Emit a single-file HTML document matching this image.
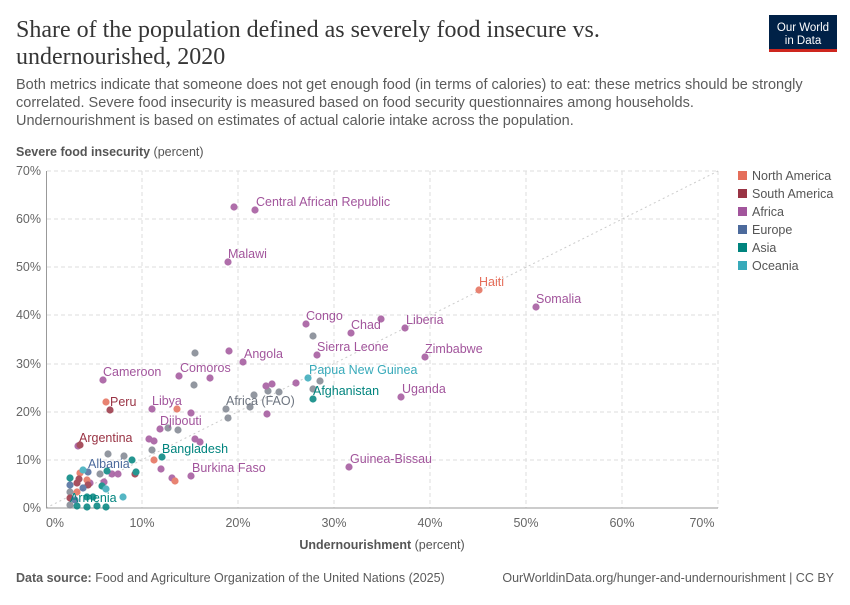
<!DOCTYPE html>
<html><head><meta charset="utf-8"><style>
body{margin:0;background:#fff;width:850px;height:600px;overflow:hidden;font-family:"Liberation Sans",sans-serif}
</style></head><body>
<svg width="850" height="600" xmlns="http://www.w3.org/2000/svg" font-family="Liberation Sans, sans-serif">
<text x="16" y="37" font-family="Liberation Serif, serif" font-size="24" fill="#363636">Share of the population defined as severely food insecure vs.</text>
<text x="16" y="64" font-family="Liberation Serif, serif" font-size="24" fill="#363636">undernourished, 2020</text>
<rect x="769" y="15" width="68" height="36" fill="#002147"/>
<rect x="769" y="49" width="68" height="3" fill="#ce261e"/>
<text x="803" y="31" font-size="11.5" fill="#fff" text-anchor="middle">Our World</text>
<text x="803" y="44" font-size="11.5" fill="#fff" text-anchor="middle">in Data</text>
<g font-size="14.5" fill="#5b5b5b">
<text x="16" y="89">Both metrics indicate that someone does not get enough food (in terms of calories) to eat: these metrics should be strongly</text>
<text x="16" y="107">correlated. Severe food insecurity is measured based on food security questionnaires among households.</text>
<text x="16" y="125">Undernourishment is based on estimates of actual calorie intake across the population.</text>
</g>
<text x="16" y="156" font-size="12.5" fill="#555"><tspan font-weight="bold">Severe food insecurity</tspan> (percent)</text>
<g stroke="#ddd" stroke-dasharray="4,3" stroke-width="1">
<line x1="47" x2="718" y1="171" y2="171"/><line x1="47" x2="718" y1="219" y2="219"/><line x1="47" x2="718" y1="267" y2="267"/><line x1="47" x2="718" y1="315" y2="315"/><line x1="47" x2="718" y1="364" y2="364"/><line x1="47" x2="718" y1="412" y2="412"/><line x1="47" x2="718" y1="460" y2="460"/>
<line x1="142" x2="142" y1="171" y2="508"/><line x1="238" x2="238" y1="171" y2="508"/><line x1="334" x2="334" y1="171" y2="508"/><line x1="430" x2="430" y1="171" y2="508"/><line x1="526" x2="526" y1="171" y2="508"/><line x1="622" x2="622" y1="171" y2="508"/><line x1="718" x2="718" y1="171" y2="508"/>
</g>
<line x1="46" y1="508" x2="718" y2="171" stroke="#ccc" stroke-dasharray="2,3"/>
<line x1="46" y1="508" x2="718" y2="508" stroke="#999"/>
<line x1="46.5" y1="171" x2="46.5" y2="508" stroke="#999"/>
<g font-size="12.5" fill="#666" text-anchor="end">
<text x="41" y="175">70%</text><text x="41" y="223">60%</text><text x="41" y="271">50%</text><text x="41" y="319">40%</text><text x="41" y="368">30%</text><text x="41" y="416">20%</text><text x="41" y="464">10%</text><text x="41" y="512">0%</text>
</g>
<g font-size="12.5" fill="#666" text-anchor="middle">
<text x="55" y="527">0%</text><text x="142" y="527">10%</text><text x="238" y="527">20%</text><text x="334" y="527">30%</text><text x="430" y="527">40%</text><text x="526" y="527">50%</text><text x="622" y="527">60%</text><text x="702" y="527">70%</text>
</g>
<text x="382" y="549" font-size="12.5" fill="#555" text-anchor="middle"><tspan font-weight="bold">Undernourishment</tspan> (percent)</text>
<g opacity="0.85">
<g fill="#808690">
<circle cx="313" cy="336" r="3.6"/><circle cx="320" cy="381" r="3.6"/><circle cx="195" cy="353" r="3.6"/><circle cx="194" cy="385" r="3.6"/><circle cx="226" cy="409" r="3.6"/><circle cx="228" cy="418" r="3.6"/><circle cx="254" cy="395" r="3.6"/><circle cx="250" cy="407" r="3.6"/><circle cx="268" cy="391" r="3.6"/><circle cx="279" cy="392" r="3.6"/><circle cx="313" cy="389" r="3.6"/><circle cx="168" cy="428" r="3.6"/><circle cx="178" cy="430" r="3.6"/><circle cx="152" cy="450" r="3.6"/><circle cx="124" cy="456" r="3.6"/><circle cx="108" cy="454" r="3.6"/><circle cx="100" cy="474" r="3.6"/><circle cx="70" cy="492" r="3.6"/><circle cx="70" cy="505" r="3.6"/>
</g>
<g fill="#a2559c">
<circle cx="255" cy="210" r="3.6"/><circle cx="234" cy="207" r="3.6"/><circle cx="228" cy="262" r="3.6"/><circle cx="306" cy="324" r="3.6"/><circle cx="351" cy="333" r="3.6"/><circle cx="381" cy="319" r="3.6"/><circle cx="405" cy="328" r="3.6"/><circle cx="536" cy="307" r="3.6"/><circle cx="425" cy="357" r="3.6"/><circle cx="317" cy="355" r="3.6"/><circle cx="243" cy="362" r="3.6"/><circle cx="229" cy="351" r="3.6"/><circle cx="103" cy="380" r="3.6"/><circle cx="179" cy="376" r="3.6"/><circle cx="210" cy="378" r="3.6"/><circle cx="152" cy="409" r="3.6"/><circle cx="191" cy="413" r="3.6"/><circle cx="160" cy="429" r="3.6"/><circle cx="149" cy="439" r="3.6"/><circle cx="154" cy="441" r="3.6"/><circle cx="195" cy="439" r="3.6"/><circle cx="200" cy="442" r="3.6"/><circle cx="401" cy="397" r="3.6"/><circle cx="349" cy="467" r="3.6"/><circle cx="191" cy="476" r="3.6"/><circle cx="161" cy="469" r="3.6"/><circle cx="172" cy="478" r="3.6"/><circle cx="296" cy="383" r="3.6"/><circle cx="266" cy="386" r="3.6"/><circle cx="272" cy="384" r="3.6"/><circle cx="267" cy="414" r="3.6"/><circle cx="78" cy="446" r="3.6"/><circle cx="112" cy="474" r="3.6"/><circle cx="118" cy="474" r="3.6"/><circle cx="104" cy="482" r="3.6"/><circle cx="90" cy="483" r="3.6"/>
</g>
<g fill="#e56e5a">
<circle cx="479" cy="290" r="3.6"/><circle cx="106" cy="402" r="3.6"/><circle cx="177" cy="409" r="3.6"/><circle cx="154" cy="460" r="3.6"/><circle cx="175" cy="481" r="3.6"/><circle cx="80" cy="473" r="3.6"/><circle cx="87" cy="480" r="3.6"/><circle cx="77" cy="492" r="3.6"/>
</g>
<g fill="#993344">
<circle cx="110" cy="410" r="3.6"/><circle cx="80" cy="445" r="3.6"/><circle cx="77" cy="483" r="3.6"/><circle cx="79" cy="479" r="3.6"/><circle cx="88" cy="485" r="3.6"/><circle cx="135" cy="474" r="3.6"/><circle cx="70" cy="498" r="3.6"/>
</g>
<g fill="#4c6a9c">
<circle cx="70" cy="485" r="3.6"/><circle cx="88" cy="472" r="3.6"/><circle cx="83" cy="488" r="3.6"/><circle cx="75" cy="500" r="3.6"/>
</g>
<g fill="#00847e">
<circle cx="313" cy="399" r="3.6"/><circle cx="162" cy="457" r="3.6"/><circle cx="70" cy="478" r="3.6"/><circle cx="107" cy="471" r="3.6"/><circle cx="102" cy="486" r="3.6"/><circle cx="136" cy="472" r="3.6"/><circle cx="132" cy="460" r="3.6"/><circle cx="77" cy="506" r="3.6"/><circle cx="87" cy="507" r="3.6"/><circle cx="97" cy="506" r="3.6"/><circle cx="106" cy="507" r="3.6"/><circle cx="87" cy="497" r="3.6"/><circle cx="93" cy="497" r="3.6"/>
</g>
<g fill="#38aaba">
<circle cx="308" cy="378" r="3.6"/><circle cx="123" cy="497" r="3.6"/><circle cx="83" cy="470" r="3.6"/><circle cx="106" cy="489" r="3.6"/>
</g>
</g>
<g font-size="12.5">
<g fill="#a2559c">
<text x="256" y="206">Central African Republic</text><text x="228" y="258">Malawi</text><text x="306" y="320">Congo</text><text x="351" y="329">Chad</text><text x="406" y="324">Liberia</text><text x="536" y="303">Somalia</text><text x="425" y="353">Zimbabwe</text><text x="317" y="351">Sierra Leone</text><text x="244" y="358">Angola</text><text x="103" y="376">Cameroon</text><text x="180" y="372">Comoros</text><text x="152" y="405">Libya</text><text x="160" y="425">Djibouti</text><text x="402" y="393">Uganda</text><text x="350" y="463">Guinea-Bissau</text><text x="192" y="472">Burkina Faso</text>
</g>
<text x="479" y="286" fill="#e56e5a">Haiti</text>
<text x="110" y="406" fill="#993344">Peru</text>
<text x="79" y="442" fill="#993344">Argentina</text>
<text x="88" y="468" fill="#4c6a9c">Albania</text>
<text x="70" y="502" fill="#00847e">Armenia</text>
<text x="162" y="453" fill="#00847e">Bangladesh</text>
<text x="313" y="395" fill="#00847e">Afghanistan</text>
<text x="309" y="374" fill="#38aaba">Papua New Guinea</text>
<text x="226" y="405" fill="#6e7580">Africa (FAO)</text>
</g>
<g font-size="12.5" fill="#555">
<rect x="738" y="171" width="9" height="9" fill="#e56e5a"/><text x="752" y="180">North America</text>
<rect x="738" y="189" width="9" height="9" fill="#993344"/><text x="752" y="198">South America</text>
<rect x="738" y="207" width="9" height="9" fill="#a2559c"/><text x="752" y="216">Africa</text>
<rect x="738" y="225" width="9" height="9" fill="#4c6a9c"/><text x="752" y="234">Europe</text>
<rect x="738" y="243" width="9" height="9" fill="#00847e"/><text x="752" y="252">Asia</text>
<rect x="738" y="261" width="9" height="9" fill="#38aaba"/><text x="752" y="270">Oceania</text>
</g>
<text x="16" y="582" font-size="12.5" fill="#5b5b5b"><tspan font-weight="bold">Data source:</tspan> Food and Agriculture Organization of the United Nations (2025)</text>
<text x="834" y="582" font-size="12.5" fill="#5b5b5b" text-anchor="end">OurWorldinData.org/hunger-and-undernourishment | CC BY</text>
</svg>
</body></html>
